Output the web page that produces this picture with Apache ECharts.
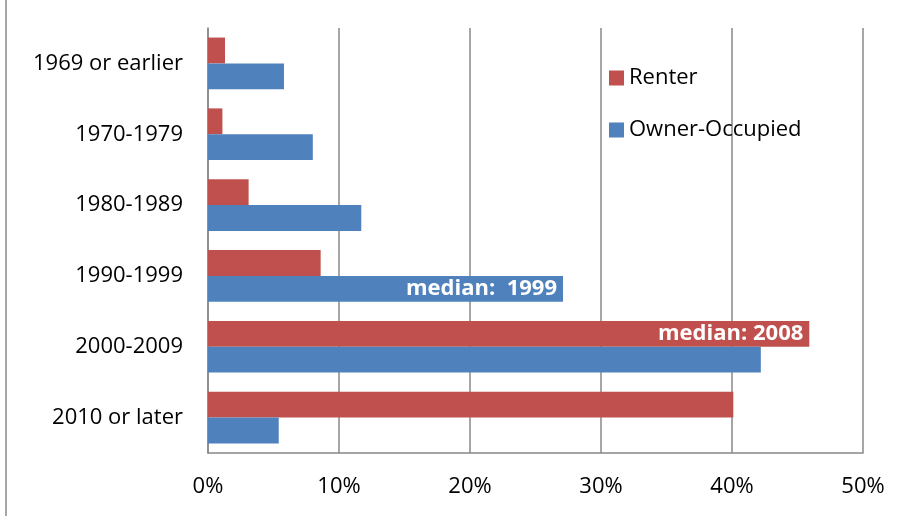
<!DOCTYPE html>
<html>
<head>
<meta charset="utf-8">
<script src="https://cdn.jsdelivr.net/npm/echarts@6/dist/echarts.min.js"></script>
<style>
  html, body { margin: 0; padding: 0; background: #fff; }
  #chart { width: 915px; height: 516px; }
  .frame { position: absolute; left: 5px; top: 0; width: 2px; height: 516px; background: #a6a6a6; }
</style>
</head>
<body>
<div class="frame"></div>
<div id="chart"></div>
<script>
// year built categories, top to bottom
const categories = ['1969 or earlier', '1970-1979', '1980-1989', '1990-1999', '2000-2009', '2010 or later'];
// share of units, %
const renterValues = [1.3, 1.1, 3.1, 8.6, 45.9, 40.1];
const ownerValues = [5.8, 8.0, 11.7, 27.1, 42.2, 5.4];
// bar annotations
const renterNotes = [null, null, null, null, 'median: 2008', null];
const ownerNotes = [null, null, null, 'median:  1999', null, null];
const xTicks = [0, 10, 20, 30, 40, 50];

const FONT = 'Open Sans';

function withNotes(values, notes) {
  return values.map(function (v, i) {
    if (!notes[i]) return v;
    return {
      value: v,
      label: {
        show: true,
        position: 'insideRight',
        distance: 6,
        formatter: notes[i],
        color: '#fff',
        fontWeight: 'bold',
        fontSize: 22,
        fontFamily: FONT
      }
    };
  });
}

const chart = echarts.init(document.getElementById('chart'));
chart.setOption({
  animation: false,
  grid: { left: 208, right: 52, top: 28, bottom: 63 },
  legend: {
    orient: 'vertical',
    left: 604,
    top: 62,
    itemWidth: 15,
    itemHeight: 15,
    itemGap: 30,
    icon: 'rect',
    textStyle: { fontSize: 22, lineHeight: 22, fontFamily: FONT, color: '#000' },
    data: ['Renter', 'Owner-Occupied']
  },
  xAxis: {
    type: 'value',
    min: xTicks[0],
    max: xTicks[xTicks.length - 1],
    interval: 10,
    axisLine: { show: true, lineStyle: { color: '#888', width: 1.5 } },
    axisTick: { show: false },
    splitLine: { lineStyle: { color: '#888', width: 1.5 } },
    axisLabel: { formatter: '{value}%', fontSize: 22, fontFamily: FONT, color: '#000', margin: 23 }
  },
  yAxis: {
    type: 'category',
    inverse: true,
    data: categories,
    axisLine: { lineStyle: { color: '#888', width: 1.5 } },
    axisTick: { show: false },
    axisLabel: { fontSize: 22, fontFamily: FONT, color: '#000', margin: 25, padding: [3, 0, 0, 0] }
  },
  series: [
    {
      name: 'Renter',
      type: 'bar',
      barGap: '0%',
      barCategoryGap: '27%',
      itemStyle: { color: '#C0504D' },
      data: withNotes(renterValues, renterNotes)
    },
    {
      name: 'Owner-Occupied',
      type: 'bar',
      barGap: '0%',
      barCategoryGap: '27%',
      itemStyle: { color: '#4F81BD' },
      data: withNotes(ownerValues, ownerNotes)
    }
  ]
});
</script>
</body>
</html>
